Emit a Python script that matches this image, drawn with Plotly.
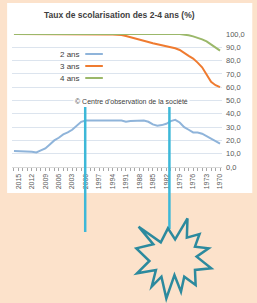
import plotly.graph_objects as go

years = list(range(1970, 2017))
ans2 = [17.5, 19.5, 21.5, 23, 25, 26, 26, 28, 30, 33.5,
        35.5, 34.5, 32.5, 31.5, 31, 32, 34, 35, 35, 35,
        34.5, 34, 35, 35, 35, 34.5, 34.5, 35, 35, 35,
        35, 34, 31, 28, 26, 24.5, 22, 20, 17, 14,
        12.5, 11, 11.5, 11.5, 11.5, 11.8, 12]
ans3 = [60, 61.5, 64, 69, 75, 78.5, 81.5, 83.5, 86, 88,
        89.3, 90, 90.5, 91.3, 92, 93, 94, 95, 96, 97,
        97.8, 98.5, 99.2, 99.6, 99.6, 99.6, 99.6, 99.6, 99.6, 99.6,
        99.6, 99.6, 99.6, 99.6, 99.6, 99.6, 99.6, 99.6, 99.6, 99.6,
        99.6, 99.6, 100, 100, 100, 100, 100]
ans4 = [87.5, 90, 92.5, 94.5, 96, 97.2, 98.2, 99, 99.7, 100,
        100, 100, 100, 100, 100, 100, 100, 100, 100, 100,
        100, 100, 100, 100, 100, 100, 100, 100, 100, 100,
        100, 100, 100, 100, 100, 100, 100, 100, 100, 100,
        100, 100, 100, 100, 100, 100, 100]
series_names = ["2 ans", "3 ans", "4 ans"]
series_colors = ["#8FB4DA", "#EF7B30", "#9BB86A"]
x_tick_vals = list(range(1970, 2016, 3))
y_tick_vals = list(range(0, 101, 10))
y_tick_text = [f"{v},0" for v in y_tick_vals]
title_text = "Taux de scolarisation des 2-4 ans (%)"
source_text = "© Centre d'observation de la société"
marker_years = [2000.1, 1981.3]

W, H = 257, 303
L, R, T, B = 12, 227, 34, 167  # plot area in pixels
PEACH = "#FCE2CB"


def px2p(x, y):
    return (x - L) / (R - L), (B - y) / (B - T)


fig = go.Figure()
for name, vals, col in zip(series_names, [ans2, ans3, ans4], series_colors):
    fig.add_trace(go.Scatter(x=years, y=vals, mode="lines", name=name,
                             line=dict(color=col, width=2), showlegend=False))

shapes = []
annotations = []
# white panel
x0, y0 = px2p(7, 193)
x1, y1 = px2p(258, 3)
shapes.append(dict(type="rect", xref="paper", yref="paper", x0=x0, y0=y0, x1=x1, y1=y1,
                   fillcolor="white", line=dict(width=0), layer="below"))
# legend (mirrored layout: text then sample line)
for i, (name, col) in enumerate(zip(series_names, series_colors)):
    yy = 54 + 12 * i
    lx0, ly = px2p(87, yy)
    lx1, _ = px2p(105, yy)
    shapes.append(dict(type="line", xref="paper", yref="paper", x0=lx0, x1=lx1, y0=ly, y1=ly,
                       line=dict(color=col, width=2)))
    tx, _ = px2p(84, yy)
    annotations.append(dict(text=name, xref="paper", yref="paper", x=tx, y=ly,
                            xanchor="right", yanchor="middle", showarrow=False,
                            font=dict(size=8, color="#404040")))
# cyan marker lines
_, ya = px2p(0, 107)
_, yb1 = px2p(0, 232)
_, yb2 = px2p(0, 229)
for yr, yb in zip(marker_years, [yb1, yb2]):
    shapes.append(dict(type="line", xref="x", yref="paper", x0=yr, x1=yr, y0=ya, y1=yb,
                       line=dict(color="#3DB8D8", width=2.5), layer="above"))
# starburst
zpts = [(35, 50), (103, 97), (125, 55), (147, 88), (185, 25), (183, 83), (222, 72), (208, 110),
        (250, 115), (213, 140), (258, 175), (208, 180), (210, 225), (175, 200), (165, 245),
        (145, 195), (120, 265), (105, 200), (75, 230), (88, 180), (30, 190), (68, 153),
        (28, 115), (80, 103)]
path = ""
for i, (zx, zy) in enumerate(zpts):
    px, py = px2p(130 + zx / 3, 210 + zy / 3)
    path += ("M" if i == 0 else "L") + f"{px:.4f},{py:.4f} "
path += "Z"
shapes.append(dict(type="path", xref="paper", yref="paper", path=path,
                   fillcolor=PEACH, line=dict(color="#2C8A9E", width=2.5), layer="above"))

annotations += [
    dict(text=f"<b>{title_text}</b>", xref="paper", yref="paper",
         x=px2p(122, 0)[0], y=px2p(0, 15)[1], showarrow=False,
         font=dict(size=8.5, color="#404040"), xanchor="center", yanchor="middle"),
    dict(text=source_text, xref="paper", yref="paper",
         x=px2p(134, 0)[0], y=px2p(0, 101)[1], showarrow=False, bgcolor="white",
         font=dict(size=7, color="#404040"), xanchor="center", yanchor="middle"),
]

fig.update_layout(
    width=W, height=H,
    margin=dict(l=L, r=W - R, t=T, b=H - B, pad=0),
    paper_bgcolor=PEACH, plot_bgcolor="white",
    font=dict(family="Liberation Sans, Arial, sans-serif", color="#595959", size=8),
    showlegend=False,
    shapes=shapes,
    annotations=annotations,
)
fig.update_xaxes(range=[2016.44, 1969.56], tickmode="array", tickvals=x_tick_vals,
                 tickangle=-90, tickfont=dict(size=7, color="#595959"),
                 ticks="outside", ticklen=3, tickcolor="#A6A6A6",
                 minor=dict(dtick=1, ticks="outside", ticklen=3, tickcolor="#A6A6A6", showgrid=False),
                 showgrid=False, showline=True, linecolor="#D9D9D9", zeroline=False)
fig.update_yaxes(range=[0, 100], side="right", tickmode="array", tickvals=y_tick_vals,
                 ticktext=y_tick_text, tickfont=dict(size=7.5, color="#595959"),
                 showgrid=True, gridcolor="#DCE4EE", gridwidth=1, zeroline=False,
                 ticks="", ticklabelstandoff=3)
fig.write_html("out.html", config={"displayModeBar": False},
               post_script="document.body.style.margin='0';document.body.style.background='" + PEACH + "';")
